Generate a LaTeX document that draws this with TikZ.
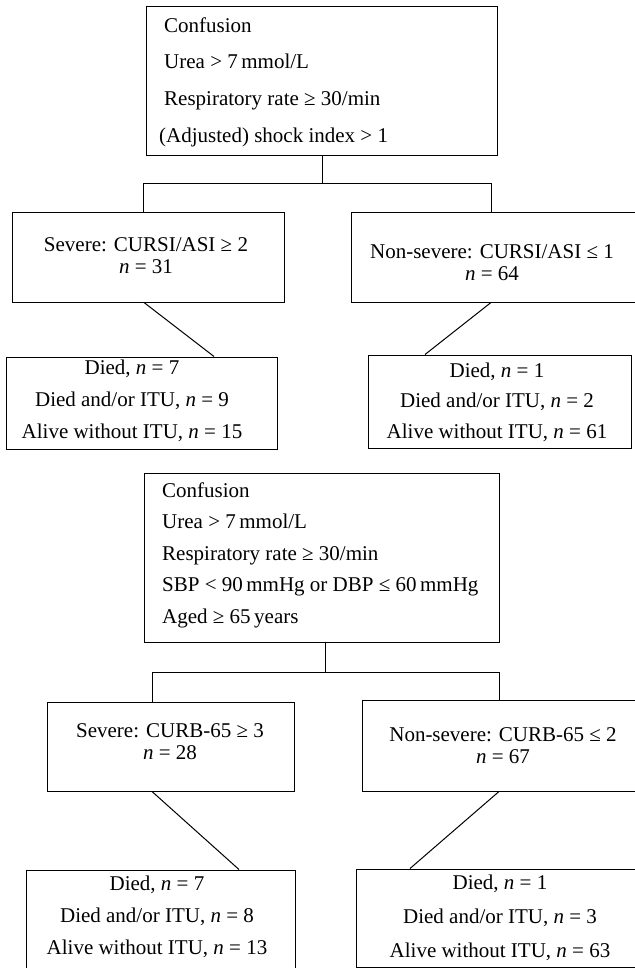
\documentclass[tikz,border=0pt]{standalone}
\usepackage{fontspec}
\setmainfont{Liberation Serif}
\begin{document}
\begin{tikzpicture}[x=1pt,y=-1pt,
  box/.style={draw, line width=1pt, rectangle, inner sep=0pt},
  txt/.style={inner sep=0pt, align=center},
  ltxt/.style={inner sep=0pt, align=left, anchor=west},
  link/.style={line width=1pt}]
\useasboundingbox (0,0) rectangle (634,968);
% ---------- first tree ----------
\node[box, minimum width=351pt, minimum height=149pt] (b1) at (321.5,81.5) {};
\node[ltxt, font=\fontsize{21}{36.7}\selectfont] (b1t) at (159,82)
  {\hspace*{5pt}Confusion\\ \hspace*{5pt}Urea > 7\,mmol/L\\ \hspace*{5pt}Respiratory rate ≥ 30/min\\ (Adjusted) shock index > 1};
\node[box, minimum width=272pt, minimum height=89pt] (s1) at (148,257.5) {};
\node[txt, font=\fontsize{21}{22}\selectfont] (s1t) at (146,256) {Severe: CURSI/ASI ≥ 2\\ \textit{n} = 31};
\node[box, minimum width=289pt, minimum height=89pt] (n1) at (495.5,257.5) {};
\node[txt, font=\fontsize{21}{22}\selectfont] (n1t) at (492,263) {Non-severe: CURSI/ASI ≤ 1\\ \textit{n} = 64};
\node[box, minimum width=271pt, minimum height=92pt] (o1) at (141.5,403) {};
\node[txt, font=\fontsize{21}{32}\selectfont] (o1t) at (132,401) {Died, \textit{n} = 7\\ Died and/or ITU, \textit{n} = 9\\ Alive without ITU, \textit{n} = 15};
\node[box, minimum width=263pt, minimum height=93pt] (o2) at (499.5,401.5) {};
\node[txt, font=\fontsize{21}{30.5}\selectfont] (o2t) at (497,402) {Died, \textit{n} = 1\\ Died and/or ITU, \textit{n} = 2\\ Alive without ITU, \textit{n} = 61};
\coordinate (j1) at (322,184);
\coordinate (jl1) at (143,184);
\coordinate (jr1) at (491,184);
\draw[link] (j1 |- b1.south) -- (j1);
\draw[link] (jl1 |- s1.north) -- (jl1) -- (jr1) -- (jr1 |- n1.north);
\draw[link] ([xshift=-4pt]s1.south) -- ([xshift=72.5pt]o1.north);
\draw[link] ([xshift=-4.5pt]n1.south) -- ([xshift=-74.5pt]o2.north);
% ---------- second tree ----------
\node[box, minimum width=355pt, minimum height=169pt] (b2) at (321.5,557.5) {};
\node[ltxt, font=\fontsize{21}{31.5}\selectfont] (b2t) at (162,555)
  {Confusion\\ Urea > 7\,mmol/L\\ Respiratory rate ≥ 30/min\\ SBP < 90\,mmHg or DBP ≤ 60\,mmHg\\ Aged ≥ 65\,years};
\node[box, minimum width=247pt, minimum height=89pt] (s2) at (170.5,746.5) {};
\node[txt, font=\fontsize{21}{22}\selectfont] (s2t) at (170,742) {Severe: CURB-65 ≥ 3\\ \textit{n} = 28};
\node[box, minimum width=278pt, minimum height=91pt] (n2) at (501,745.5) {};
\node[txt, font=\fontsize{21}{22}\selectfont] (n2t) at (503,746) {Non-severe: CURB-65 ≤ 2\\ \textit{n} = 67};
\node[box, minimum width=269pt, minimum height=100pt] (o3) at (160.5,920) {};
\node[txt, font=\fontsize{21}{32}\selectfont] (o3t) at (157,917) {Died, \textit{n} = 7\\ Died and/or ITU, \textit{n} = 8\\ Alive without ITU, \textit{n} = 13};
\node[box, minimum width=284pt, minimum height=98pt] (o4) at (498,918) {};
\node[txt, font=\fontsize{21}{34}\selectfont] (o4t) at (500,918) {Died, \textit{n} = 1\\ Died and/or ITU, \textit{n} = 3\\ Alive without ITU, \textit{n} = 63};
\coordinate (j2) at (325,672);
\coordinate (jl2) at (152,672);
\coordinate (jr2) at (499,672);
\draw[link] (j2 |- b2.south) -- (j2);
\draw[link] (jl2 |- s2.north) -- (jl2) -- (jr2) -- (jr2 |- n2.north);
\draw[link] ([xshift=-18.5pt]s2.south) -- ([xshift=78.5pt]o3.north);
\draw[link] ([xshift=-2pt]n2.south) -- ([xshift=-88pt]o4.north);
\end{tikzpicture}
\end{document}
